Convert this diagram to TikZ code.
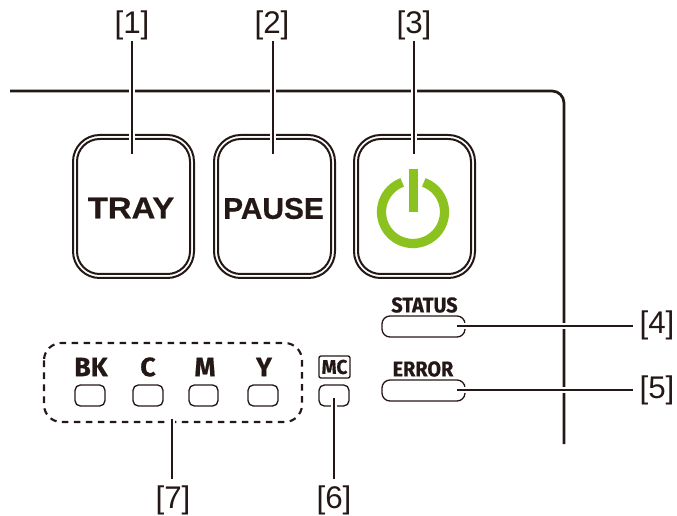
\documentclass[tikz,border=0pt]{standalone}
\usepackage{fontspec}
\setmainfont{Liberation Sans}
\newfontfamily\humanist[FakeBold=0.6]{Fira Sans}
\newfontfamily\heavy[BoldFont={Liberation Sans Bold},BoldFeatures={FakeBold=0.5}]{Liberation Sans}
\definecolor{ink}{HTML}{231815}
\definecolor{pgreen}{HTML}{8CC21F}
\tikzset{
  px/.style={x=0.75pt,y=-0.75pt},
  frameline/.style={draw=ink,line width=2pt,rounded corners=9pt},
  leader/.style={draw=ink,line width=2pt,preaction={draw=white,line width=4.6pt}},
  callout/.style={font=\fontsize{23.5}{26}\selectfont,text=ink,inner sep=0pt},
  keyword/.style={font=\heavy\fontsize{22.4}{24}\selectfont\bfseries,text=ink,inner sep=0pt},
  ledname/.style={font=\humanist\fontsize{20}{22}\selectfont\bfseries,text=ink,inner sep=0pt},
  statname/.style={font=\humanist\fontsize{16}{18}\selectfont\bfseries,text=ink,inner sep=0pt,xscale=.93},
  ledbox/.style={draw=ink,line width=1pt,rounded corners=4pt},
  keyouter/.style={draw=ink,line width=1.5pt,rounded corners=20pt},
  keyinner/.style={draw=ink,line width=1.5pt,rounded corners=17pt},
}
\newcommand{\keycap}[2]{%
  \draw[keyouter] (#1+1,135) rectangle (#1+122,278);
  \draw[keyinner] (#1+5,139) rectangle (#1+118,274);
}
\begin{document}
\begin{tikzpicture}[px]
\useasboundingbox (0,0) rectangle (677,516);
% panel frame
\coordinate (fa) at (10,91);
\coordinate (fb) at (564,91);
\coordinate (fc) at (564,444);
\draw[frameline] (fa) -- (fb) -- (fc);
% keys
\keycap{72}{}
\keycap{213}{}
\keycap{353}{}
\node[keyword,xscale=1.1] (tray) at (131,208) {TRAY};
\node[keyword] (pause) at (273.5,208.5) {PAUSE};
% power icon
\draw[pgreen,line width=6.9pt] (413,212) ++(-70:31.5) arc[start angle=-70,end angle=250,radius=31.5];
\fill[pgreen] (409,169) rectangle (418,212);
% status leds
\draw[ledbox,rounded corners=6pt] (382,316) rectangle (465,337);
\draw[ledbox,rounded corners=6pt] (382,380) rectangle (465,401);
\node[statname] (status) at (424.5,305) {STATUS};
\node[statname] (error) at (423,369) {ERROR};
% toner leds
\draw[draw=ink,line width=1.6pt,dashed,dash pattern=on 5pt off 4pt,rounded corners=13pt] (44,343) rectangle (302,422);
\draw[ledbox] (75,385) rectangle (105,406);
\draw[ledbox] (133,385) rectangle (163,406);
\draw[ledbox] (189,385) rectangle (218,406);
\draw[ledbox] (248,385) rectangle (278,406);
\draw[ledbox] (319,385) rectangle (349,406);
\node[ledname] (bk) at (91,367) {BK};
\node[ledname] (c) at (148,367) {C};
\node[ledname] (m) at (205,367) {M};
\node[ledname] (y) at (264,367) {Y};
\node[draw=ink,line width=1pt,rounded corners=1.5pt,minimum width=24.5pt,minimum height=16.5pt,inner sep=0pt,
      font=\humanist\fontsize{15}{16}\selectfont\bfseries,text=ink,xscale=.95] (mc) at (334.5,367) {MC};
% callouts
\node[callout] (n1) at (132,25) {[1]};
\node[callout] (n2) at (272,25) {[2]};
\node[callout] (n3) at (414,25) {[3]};
\node[callout] (n4) at (657,325) {[4]};
\node[callout] (n5) at (657,390) {[5]};
\node[callout] (n6) at (334,500) {[6]};
\node[callout] (n7) at (173,500) {[7]};
\coordinate (t1) at (132,154);
\coordinate (t2) at (273,154);
\coordinate (t3) at (414,154);
\coordinate (t4) at (457,326);
\coordinate (t5) at (457,390);
\coordinate (t6) at (334,398);
\coordinate (t7) at (172,419);
\coordinate (s1) at (132,41);
\coordinate (s2) at (273,41);
\coordinate (s3) at (414,41);
\coordinate (s4) at (633,326);
\coordinate (s5) at (633,390);
\coordinate (s6) at (334,479);
\coordinate (s7) at (172,479);
\foreach \i in {1,...,7} {\draw[leader] (s\i) -- (t\i);}
\end{tikzpicture}
\end{document}
